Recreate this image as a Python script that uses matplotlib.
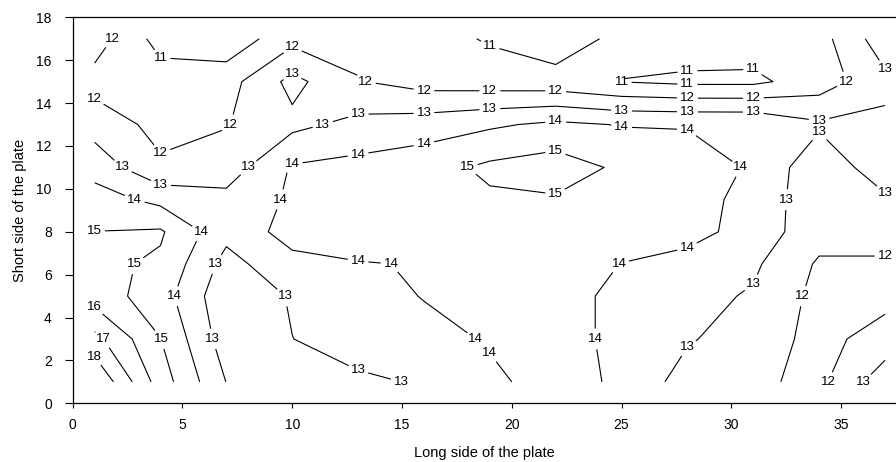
import matplotlib.pyplot as plt
import numpy as np

plt.rcParams['font.family'] = 'Liberation Sans'

# measuring positions on the plate
long_side = [1, 4, 7, 10, 13, 16, 19, 22, 25, 28, 31, 34, 37]
short_side = [1, 3, 5, 6.5, 8, 9.5, 11, 13, 15, 17]

# measured values, one row per position on the short side
row_1 = [19.0, 15.5, 12.98, 12.5, 12.85, 13.08, 13.8, 14.4, 13.83, 12.57, 12.18, 11.75, 13.6]
row_3 = [17.3, 15.02, 12.47, 12.99, 13.4, 13.63, 14.1, 14.3, 13.8, 13.1, 12.5, 11.7, 12.41]
row_5 = [15.54, 14.46, 12.27, 13.09, 13.5, 14.05, 14.4, 14.3, 13.8, 13.3, 12.9, 11.7, 11.7]
row_6_5 = [15.25, 14.84, 12.65, 13.7, 13.95, 14.05, 14.5, 14.5, 13.98, 13.6, 13.17, 11.87, 11.87]
row_8 = [15.01, 15.12, 13.3, 14.4, 14.5, 14.8, 14.8, 14.7, 14.5, 14.4, 13.55, 12.4, 12.4]
row_9_5 = [14.43, 13.72, 13.3, 14.15, 14.4, 14.6, 14.85, 14.9, 14.7, 14.5, 13.6, 12.4, 12.84]
row_11 = [13.61, 12.15, 12.45, 14.1, 14.3, 14.6, 15.2, 15.5, 14.82, 14.6, 13.86, 12.3, 13.6]
row_13 = [12.57, 11.7, 11.95, 12.74, 13.3, 13.5, 13.85, 14.2, 13.95, 13.92, 13.9, 13.15, 13.2]
row_15 = [11.62, 11.5, 11.6, 13.3, 12.05, 11.6, 11.5, 11.4, 10.98, 10.8, 10.8, 11.47, 12.75]
row_17 = [12.5, 10.6, 10.3, 11.7, 11.7, 11.4, 10.9, 10.4, 11.3, 11.6, 11.5, 11.6, 13.6]

levels = [11, 12, 13, 14, 15, 16, 17, 18]

values = np.array([row_1, row_3, row_5, row_6_5, row_8, row_9_5,
                   row_11, row_13, row_15, row_17])

fig = plt.figure(figsize=(8.96, 4.62), dpi=100)
ax = fig.add_axes([0.0811, 0.127, 0.9189, 0.8355])

cs = ax.contour(long_side, short_side, values, levels=levels,
                colors='black', linewidths=0.8)

ax.set_xlim(0, 37.5)
ax.set_ylim(0, 18)
ax.set_xticks(range(0, 36, 5))
ax.set_yticks(range(0, 19, 2))
ax.spines['right'].set_visible(False)
ax.tick_params(axis='y', direction='out', length=6, width=0.8, pad=9, labelsize=10)
ax.tick_params(axis='x', direction='out', length=3.5, width=0.8, pad=7, labelsize=10)
for s in ax.spines.values():
    s.set_linewidth(0.9)
ax.set_xlabel('Long side of the plate', fontsize=10.5, labelpad=10)
ax.set_ylabel('Short side of the plate', fontsize=10.5, labelpad=7)

# spread several labels along every contour line
spots = []
for segs in cs.allsegs:
    for seg in segs:
        if len(seg) < 2:
            continue
        pts = ax.transData.transform(seg)
        d = np.r_[0, np.cumsum(np.hypot(*np.diff(pts, axis=0).T))]
        if d[-1] < 25:
            continue
        n = max(1, int(d[-1] // 75))
        for k in range(n):
            s = d[-1] * (k + 0.5) / n
            i = min(np.searchsorted(d, s), len(seg) - 1)
            spots.append((seg[i][0], seg[i][1]))

labels = ax.clabel(cs, manual=spots, inline=True, fmt='%d',
                   fontsize=9.5, inline_spacing=3)
for t in labels:
    t.set_rotation(0)

plt.savefig('out.png', dpi=100)
